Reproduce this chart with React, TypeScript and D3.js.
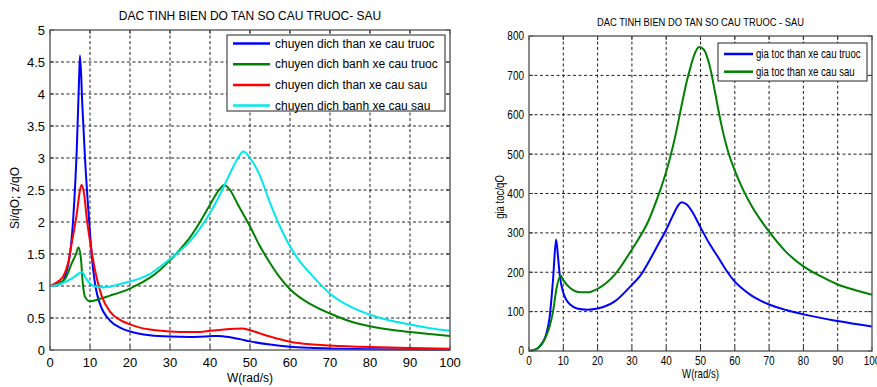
import React, { useEffect, useRef } from "react";
import * as d3 from "d3";

type Pt = [number, number];

// ---- shared axis values ----
const xTicks = [0, 10, 20, 30, 40, 50, 60, 70, 80, 90, 100];
const leftYTicks = [0, 0.5, 1, 1.5, 2, 2.5, 3, 3.5, 4, 4.5, 5];
const rightYTicks = [0, 100, 200, 300, 400, 500, 600, 700, 800];

const leftTitle = "DAC TINH BIEN DO TAN SO CAU TRUOC- SAU";
const rightTitle = "DAC TINH BIEN DO TAN SO CAU TRUOC - SAU";
const xLabel = "W(rad/s)";
const leftYLabel = "Si/qO; z/qO";
const rightYLabel = "gia toc/qO";

const leftNames = [
  "chuyen dich than xe cau truoc",
  "chuyen dich banh xe cau truoc",
  "chuyen dich than xe cau sau",
  "chuyen dich banh xe cau sau",
];
const rightNames = ["gia toc than xe cau truoc", "gia toc than xe cau sau"];

// ---- left chart series (W, value) ----
const thanTruoc: Pt[] = [
  [0, 1], [2.5, 1.03], [4.6, 1.35], [5.8, 2.05], [6.7, 3.15], [7.25, 4.2], [7.5, 4.6],
  [8.1, 3.8], [8.75, 3.0], [9.8, 2.0], [10.8, 1.25], [11.5, 0.95], [12.5, 0.72], [15, 0.46],
  [17.5, 0.35], [20, 0.29], [25, 0.23], [30, 0.21], [35, 0.205], [40, 0.215], [42, 0.22],
  [45, 0.2], [47.5, 0.17], [50, 0.135], [55, 0.085], [60, 0.052], [65, 0.035], [70, 0.024],
  [80, 0.012], [90, 0.006], [100, 0.003],
];
const banhTruoc: Pt[] = [
  [0, 1], [2, 1.04], [3.75, 1.11], [5.4, 1.35], [6.5, 1.5], [7.1, 1.6], [7.7, 1.45],
  [8.2, 1.04], [8.75, 0.83], [10, 0.76], [12.5, 0.8], [15, 0.85], [17.5, 0.9], [20, 0.96],
  [22.5, 1.04], [25, 1.13], [27.5, 1.25], [30, 1.4], [32.5, 1.57], [35, 1.76], [37.5, 2.0],
  [40, 2.27], [42, 2.48], [43.6, 2.58], [45, 2.5], [47, 2.27], [50, 1.93], [52.5, 1.62],
  [55, 1.36], [57.5, 1.13], [60, 0.95], [65, 0.72], [70, 0.57], [75, 0.45], [80, 0.37],
  [90, 0.28], [100, 0.22],
];
const thanSau: Pt[] = [
  [0, 1], [2, 1.07], [3.3, 1.15], [4.5, 1.35], [5.4, 1.66], [6.7, 2.13], [7.5, 2.5],
  [7.9, 2.58], [8.5, 2.45], [9.2, 2.05], [10, 1.7], [11.25, 1.25], [12.9, 0.85], [15, 0.6],
  [17.5, 0.47], [20, 0.4], [22.5, 0.35], [25, 0.32], [30, 0.29], [35, 0.28], [37.5, 0.28],
  [40, 0.3], [45, 0.33], [48, 0.335], [50, 0.31], [52.5, 0.26], [55, 0.21], [60, 0.13],
  [65, 0.09], [70, 0.07], [80, 0.045], [90, 0.03], [100, 0.02],
];
const banhSau: Pt[] = [
  [0, 1], [2, 1.02], [4, 1.07], [6, 1.14], [8, 1.22], [9, 1.12], [10, 1.04], [11, 1.0],
  [12.5, 0.98], [15, 0.99], [17.5, 1.03], [20, 1.07], [22.5, 1.12], [25, 1.19], [27.5, 1.3],
  [30, 1.42], [32.5, 1.55], [35, 1.7], [37.5, 1.9], [40, 2.14], [42.5, 2.43], [45, 2.76],
  [47, 3.0], [48.3, 3.1], [50, 3.0], [52.5, 2.72], [55, 2.3], [57.5, 1.93], [60, 1.62],
  [62.5, 1.38], [65, 1.2], [70, 0.88], [75, 0.68], [80, 0.55], [85, 0.46], [90, 0.4],
  [95, 0.34], [100, 0.3],
];

// ---- right chart series ----
const gtTruoc: Pt[] = [
  [0, 0], [2, 4], [3, 11], [4, 22], [5, 42], [6, 85], [7, 180], [7.9, 283], [8.5, 235],
  [9, 190], [10, 148], [11, 128], [12, 118], [14, 108], [17, 105], [20, 108], [25, 126],
  [30, 168], [32.5, 192], [35, 228], [37.5, 268], [40, 308], [42, 345], [43.5, 370],
  [44.5, 378], [46, 372], [47.5, 355], [50, 314], [52.5, 274], [55, 240], [57.5, 205],
  [60, 176], [62.5, 156], [65, 140], [67.5, 128], [70, 118], [75, 104], [80, 93], [90, 76],
  [100, 62],
];
const gtSau: Pt[] = [
  [0, 0], [2, 4], [3, 10], [4, 21], [5, 38], [6, 62], [7, 100], [8, 158], [9.2, 192],
  [10, 180], [12, 160], [15, 149], [17, 149], [20, 158], [25, 194], [30, 258], [35, 334],
  [37.5, 390], [40, 455], [42.5, 540], [45, 645], [46, 685], [47, 718], [48, 748], [49, 767],
  [49.6, 772], [51, 765], [52, 745], [53, 712], [54, 668], [55, 622], [56, 578], [57, 540],
  [58, 508], [60, 458], [62.5, 408], [65, 367], [67.5, 333], [70, 303], [75, 251],
  [80, 215], [85, 190], [90, 169], [95, 155], [100, 143],
];

const BLUE = "#0000ff";
const GREEN = "#008000";
const RED = "#ff0000";
const CYAN = "#00e8ee";

const FONT = "Arial, 'Liberation Sans', sans-serif";

type G = d3.Selection<SVGGElement, unknown, null, undefined>;

type PanelOpts = {
  x0: number; x1: number; y0: number; y1: number;
  yMax: number; yTicks: number[];
  series: { data: Pt[]; color: string; name: string }[];
  sx: number; tickSize: number; title: string; titleY: number; titleSize: number;
  yLabel: string; yLabelX: number; yLabelY: number; xLabelY: number;
  yTickX: number; xTickY: number;
  legend: { x: number; y: number; w: number; h: number; first: number; step: number; lx0: number; lx1: number; tx: number; size: number };
};

// text with optional horizontal squeeze (right panel uses a narrow face)
function txt(g: G, x: number, y: number, s: string, size: number, anchor: string, sx: number, rot = 0) {
  return g.append("text")
    .attr("transform", `translate(${x},${y}) rotate(${rot}) scale(${sx},1)`)
    .attr("text-anchor", anchor).attr("dy", "0.35em")
    .attr("font-family", FONT).attr("font-size", size).attr("fill", "#000")
    .text(s);
}

function drawPanel(svg: d3.Selection<SVGSVGElement, unknown, null, undefined>, o: PanelOpts) {
  const g = svg.append("g") as G;
  const x = d3.scaleLinear().domain([0, 100]).range([o.x0, o.x1]);
  const y = d3.scaleLinear().domain([0, o.yMax]).range([o.y1, o.y0]);

  // dotted grid
  g.selectAll(".gx").data(xTicks.slice(1, -1)).enter().append("line")
    .attr("x1", d => x(d)).attr("x2", d => x(d)).attr("y1", o.y0).attr("y2", o.y1)
    .attr("stroke", "#222").attr("stroke-width", 1).attr("stroke-dasharray", "3,2.5");
  g.selectAll(".gy").data(o.yTicks.slice(1, -1)).enter().append("line")
    .attr("y1", d => y(d)).attr("y2", d => y(d)).attr("x1", o.x0).attr("x2", o.x1)
    .attr("stroke", "#222").attr("stroke-width", 1).attr("stroke-dasharray", "3,2.5");

  // inward ticks on all sides
  const tl = 4;
  xTicks.forEach(t => {
    g.append("line").attr("x1", x(t)).attr("x2", x(t)).attr("y1", o.y1).attr("y2", o.y1 - tl).attr("stroke", "#333");
    g.append("line").attr("x1", x(t)).attr("x2", x(t)).attr("y1", o.y0).attr("y2", o.y0 + tl).attr("stroke", "#333");
  });
  o.yTicks.forEach(t => {
    g.append("line").attr("y1", y(t)).attr("y2", y(t)).attr("x1", o.x0).attr("x2", o.x0 + tl).attr("stroke", "#333");
    g.append("line").attr("y1", y(t)).attr("y2", y(t)).attr("x1", o.x1).attr("x2", o.x1 - tl).attr("stroke", "#333");
  });

  // curves
  const line = d3.line<Pt>().x(d => x(d[0])).y(d => y(d[1])).curve(d3.curveMonotoneX);
  o.series.forEach(s => {
    g.append("path").datum(s.data).attr("fill", "none").attr("stroke", s.color)
      .attr("stroke-width", 2).attr("stroke-linejoin", "round").attr("d", line);
  });

  // box
  g.append("rect").attr("x", o.x0).attr("y", o.y0)
    .attr("width", o.x1 - o.x0).attr("height", o.y1 - o.y0)
    .attr("fill", "none").attr("stroke", "#5a5a5a").attr("stroke-width", 1.4);

  // tick labels
  xTicks.forEach(t => txt(g, x(t), o.xTickY, String(t), o.tickSize, "middle", o.sx));
  o.yTicks.forEach(t => txt(g, o.yTickX, y(t), String(t), o.tickSize, "end", o.sx));

  // title and axis labels
  txt(g, (o.x0 + o.x1) / 2, o.titleY, o.title, o.titleSize, "middle", o.sx);
  txt(g, (o.x0 + o.x1) / 2, o.xLabelY, xLabel, 12, "middle", o.sx);
  txt(g, o.yLabelX, o.yLabelY, o.yLabel, 12, "middle", o.sx, -90);

  // legend
  const L = o.legend;
  g.append("rect").attr("x", L.x).attr("y", L.y).attr("width", L.w).attr("height", L.h)
    .attr("fill", "#fff").attr("stroke", "#222").attr("stroke-width", 1);
  o.series.forEach((s, i) => {
    const cy = L.y + L.first + i * L.step;
    g.append("line").attr("x1", L.lx0).attr("x2", L.lx1).attr("y1", cy).attr("y2", cy)
      .attr("stroke", s.color).attr("stroke-width", 2.5);
    txt(g, L.tx, cy, s.name, L.size, "start", o.sx);
  });
}

export default function App() {
  const ref = useRef<SVGSVGElement>(null);

  useEffect(() => {
    const svg = d3.select(ref.current!);
    svg.selectAll("*").remove();
    svg.append("rect").attr("width", 877).attr("height", 387).attr("fill", "#fff");

    drawPanel(svg, {
      x0: 50, x1: 450, y0: 30, y1: 350, yMax: 5, yTicks: leftYTicks,
      series: [
        { data: thanTruoc, color: BLUE, name: leftNames[0] },
        { data: banhTruoc, color: GREEN, name: leftNames[1] },
        { data: thanSau, color: RED, name: leftNames[2] },
        { data: banhSau, color: CYAN, name: leftNames[3] },
      ],
      sx: 1, tickSize: 13, title: leftTitle, titleY: 16, titleSize: 12,
      yLabel: leftYLabel, yLabelX: 15, yLabelY: 198, xLabelY: 378,
      yTickX: 45, xTickY: 362,
      legend: { x: 227, y: 35, w: 218, h: 76, first: 8.5, step: 20.7, lx0: 233, lx1: 270, tx: 275, size: 12 },
    });

    drawPanel(svg, {
      x0: 529, x1: 872, y0: 36, y1: 351, yMax: 800, yTicks: rightYTicks,
      series: [
        { data: gtTruoc, color: BLUE, name: rightNames[0] },
        { data: gtSau, color: GREEN, name: rightNames[1] },
      ],
      sx: 0.8, tickSize: 12.5, title: rightTitle, titleY: 22, titleSize: 11.7,
      yLabel: rightYLabel, yLabelX: 500, yLabelY: 197, xLabelY: 374,
      yTickX: 524, xTickY: 361,
      legend: { x: 718, y: 43, w: 149, h: 38, first: 11, step: 17.7, lx0: 724, lx1: 753, tx: 756, size: 12 },
    });
  }, []);

  return (
    <div style={{ position: "absolute", left: 0, top: 0 }}>
      <svg ref={ref} width={877} height={387}></svg>
    </div>
  );
}
